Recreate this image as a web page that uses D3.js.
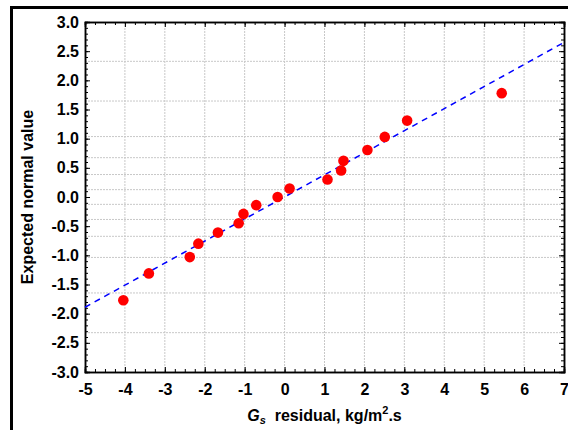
<!DOCTYPE html>
<html>
<head>
<meta charset="utf-8">
<script src="https://cdn.jsdelivr.net/npm/d3@7"></script>
<style>
  body { margin: 0; background: white; }
  svg { display: block; font-family: "Liberation Sans", Arial, sans-serif; }
</style>
</head>
<body>
<div id="canvas"></div>
<script>
const width = 568;
const height = 430;

// residuals (x) and expected normal values (y)
const residuals = [-4.04, -3.4, -2.375, -2.16, -1.67, -1.15, -1.03, -0.71, -0.175,
                   0.125, 1.075, 1.417, 1.475, 2.075, 2.51, 3.07, 5.44];
const expected = [-1.77, -1.31, -1.03, -0.80, -0.61, -0.45, -0.29, -0.14, 0.0,
                  0.145, 0.30, 0.455, 0.62, 0.806, 1.03, 1.31, 1.78];

// fitted reference line end points
const lineX = [-5, 7];
const lineY = [-1.89, 2.65];

// tick labels
const xTicks = [-5, -4, -3, -2, -1, 0, 1, 2, 3, 4, 5, 6, 7];
const yTicks = [-3.0, -2.5, -2.0, -1.5, -1.0, -0.5, 0.0, 0.5, 1.0, 1.5, 2.0, 2.5, 3.0];
// horizontal grid lines at normal quantiles of .01 .05 .15 ... .95 .99
const yGrid = [-2.326, -1.645, -1.036, -0.674, -0.385, -0.126,
               0.126, 0.385, 0.674, 1.036, 1.645, 2.326];
const xGrid = [-4, -3, -2, -1, 0, 1, 2, 3, 4, 5, 6];

const plotLeft = 85, plotRight = 564, plotTop = 22, plotBottom = 372;

const svg = d3.select("#canvas")
    .append("svg")
    .attr("width", width)
    .attr("height", height);

svg.append("rect")
    .attr("width", width)
    .attr("height", height)
    .attr("fill", "white");

// outer frame
svg.append("rect")
    .attr("x", 11.5)
    .attr("y", 7.5)
    .attr("width", 700)
    .attr("height", 600)
    .attr("fill", "none")
    .attr("stroke", "black")
    .attr("stroke-width", 3);

const x = d3.scaleLinear().domain([-5, 7]).range([plotLeft, plotRight]);
const y = d3.scaleLinear().domain([-3, 3]).range([plotBottom, plotTop]);

// plain hyphen as minus sign, like the original
const hy = f => d => f(d).replace("\u2212", "-");

// grid
svg.append("g").selectAll("line")
    .data(xGrid)
    .join("line")
    .attr("x1", d => x(d)).attr("x2", d => x(d))
    .attr("y1", plotTop).attr("y2", plotBottom)
    .attr("stroke", "#c8c8c8")
    .attr("stroke-width", 1)
    .attr("stroke-dasharray", "2,1");

svg.append("g").selectAll("line")
    .data(yGrid)
    .join("line")
    .attr("x1", plotLeft).attr("x2", plotRight)
    .attr("y1", d => y(d)).attr("y2", d => y(d))
    .attr("stroke", "#c8c8c8")
    .attr("stroke-width", 1)
    .attr("stroke-dasharray", "2,1");

// minor ticks
const xMinor = d3.range(-5, 7.001, 0.25);
const yMinor = d3.range(-3, 3.001, 0.1);

function styleAxis(g) {
    g.select(".domain").attr("stroke", "black").attr("stroke-width", 1.5);
    g.selectAll(".tick line").attr("stroke", "black");
}

svg.append("g").attr("transform", `translate(0,${plotBottom})`)
    .call(d3.axisBottom(x).tickValues(xMinor).tickSize(-3).tickFormat(""))
    .call(styleAxis);
svg.append("g").attr("transform", `translate(0,${plotTop})`)
    .call(d3.axisTop(x).tickValues(xMinor).tickSize(-3).tickFormat(""))
    .call(styleAxis);
svg.append("g").attr("transform", `translate(${plotLeft},0)`)
    .call(d3.axisLeft(y).tickValues(yMinor).tickSize(-3).tickFormat(""))
    .call(styleAxis);
svg.append("g").attr("transform", `translate(${plotRight},0)`)
    .call(d3.axisRight(y).tickValues(yMinor).tickSize(-3).tickFormat(""))
    .call(styleAxis);

// major ticks with labels
const xAxis = svg.append("g").attr("transform", `translate(0,${plotBottom})`)
    .call(d3.axisBottom(x).tickValues(xTicks).tickSize(-5).tickPadding(12).tickFormat(hy(d3.format("d"))))
    .call(styleAxis);
xAxis.selectAll("text")
    .attr("font-size", 16).attr("font-weight", "bold").attr("fill", "black")
    .attr("font-family", "Liberation Sans, Arial, sans-serif");

const yAxis = svg.append("g").attr("transform", `translate(${plotLeft},0)`)
    .call(d3.axisLeft(y).tickValues(yTicks).tickSize(-5).tickPadding(6).tickFormat(hy(d3.format(".1f"))))
    .call(styleAxis);
yAxis.selectAll("text")
    .attr("font-size", 16).attr("font-weight", "bold").attr("fill", "black")
    .attr("font-family", "Liberation Sans, Arial, sans-serif");

svg.append("g").attr("transform", `translate(0,${plotTop})`)
    .call(d3.axisTop(x).tickValues(xTicks).tickSize(-5).tickFormat(""))
    .call(styleAxis);
svg.append("g").attr("transform", `translate(${plotRight},0)`)
    .call(d3.axisRight(y).tickValues(yTicks).tickSize(-5).tickFormat(""))
    .call(styleAxis);

// reference line
svg.append("line")
    .attr("x1", x(lineX[0])).attr("y1", y(lineY[0]))
    .attr("x2", x(lineX[1])).attr("y2", y(lineY[1]))
    .attr("stroke", "#0000ff")
    .attr("stroke-width", 1.5)
    .attr("stroke-dasharray", "6,5");

// points
svg.append("g").selectAll("circle")
    .data(residuals)
    .join("circle")
    .attr("cx", d => x(d))
    .attr("cy", (d, i) => y(expected[i]))
    .attr("r", 5.3)
    .attr("fill", "#ff0000");

// axis titles
svg.append("text")
    .attr("transform", `translate(33,${(plotTop + plotBottom) / 2}) rotate(-90)`)
    .attr("text-anchor", "middle")
    .attr("font-size", 16)
    .attr("font-weight", "bold")
    .text("Expected normal value");

const xt = svg.append("text")
    .attr("x", (plotLeft + plotRight) / 2)
    .attr("y", 421)
    .attr("text-anchor", "middle")
    .attr("font-size", 16)
    .attr("font-weight", "bold");
xt.append("tspan").attr("font-style", "italic").text("G");
xt.append("tspan").attr("font-style", "italic").attr("font-size", 11).attr("dy", 3).text("s");
xt.append("tspan").attr("dy", -3).text("\u00a0 residual, kg/m");
xt.append("tspan").attr("font-size", 11).attr("dy", -7).text("2");
xt.append("tspan").attr("dy", 7).text(".s");
</script>
</body>
</html>
